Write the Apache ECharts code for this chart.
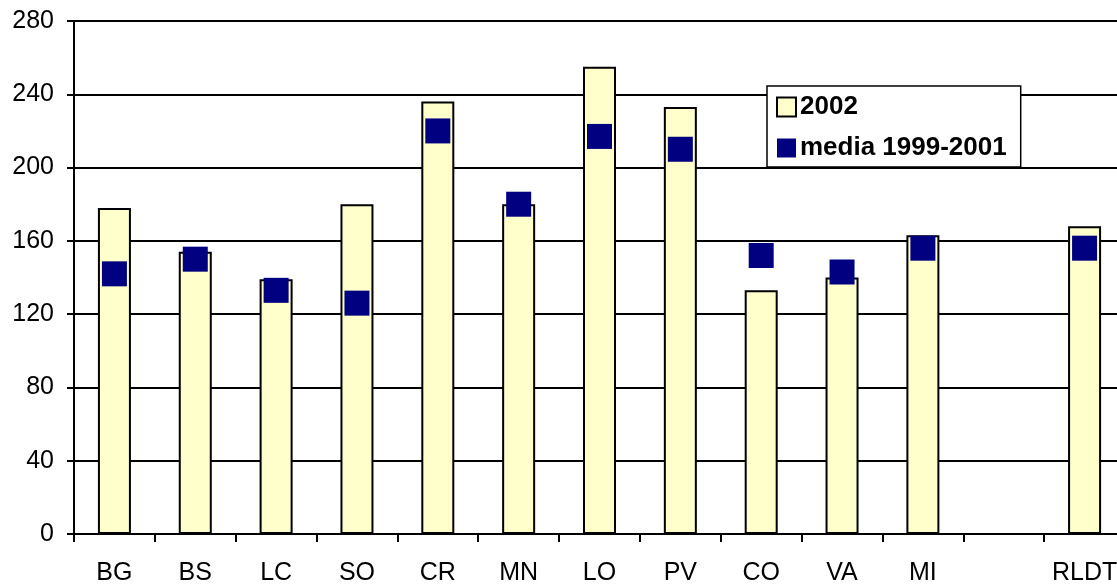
<!DOCTYPE html>
<html>
<head>
<meta charset="utf-8">
<script src="https://cdn.jsdelivr.net/npm/echarts@6/dist/echarts.min.js"></script>
<style>
  html, body { margin: 0; padding: 0; background: #fff; }
  #main { width: 1117px; height: 586px; }
</style>
</head>
<body>
<div id="main"></div>
<script>
// province codes, one empty slot before the regional total
var categories = ["BG", "BS", "LC", "SO", "CR", "MN", "LO", "PV", "CO", "VA", "MI", "", "RLDT"];
var values2002 = [178, 154, 139, 180, 236, 180, 255, 233, 133, 140, 163, "-", 168];
var media9901 = [142, 150, 133, 126, 220, 180, 217, 210, 152, 143, 156, "-", 156];
var yTicks = { min: 0, max: 280, step: 40 };

var myChart = echarts.init(document.getElementById("main"));
var font = "'Liberation Sans', Arial, sans-serif";

var option = {
  animation: false,
  backgroundColor: "#fff",
  grid: {
    left: 74,
    top: 21,
    width: 1051,
    bottom: 52,
    outerBoundsMode: "none"
  },
  legend: {
    orient: "vertical",
    left: 767,
    top: 86,
    padding: [8, 14, 6, 9],
    itemWidth: 19,
    itemHeight: 19,
    itemGap: 15,
    backgroundColor: "#fff",
    borderColor: "#000",
    borderWidth: 1.5,
    textStyle: {
      fontFamily: font,
      fontSize: 26,
      fontWeight: "bold",
      color: "#000",
      padding: [0, 0, 0, -1]
    },
    data: [
      { name: "2002", icon: "rect" },
      { name: "media 1999-2001", icon: "rect" }
    ]
  },
  xAxis: {
    type: "category",
    data: categories,
    boundaryGap: true,
    axisLine: { lineStyle: { color: "#000", width: 2 } },
    axisTick: { show: true, interval: 0, length: 8, lineStyle: { color: "#000", width: 2 } },
    axisLabel: {
      interval: 0,
      margin: 27,
      fontFamily: font,
      fontSize: 25,
      color: "#000"
    },
    splitLine: { show: false }
  },
  yAxis: {
    type: "value",
    min: yTicks.min,
    max: yTicks.max,
    interval: yTicks.step,
    axisLine: { show: true, lineStyle: { color: "#000", width: 2 } },
    axisTick: { show: true, length: 7, lineStyle: { color: "#000", width: 2 } },
    axisLabel: {
      margin: 20,
      fontFamily: font,
      fontSize: 25,
      color: "#000"
    },
    splitLine: { show: true, lineStyle: { color: "#000", width: 2 } }
  },
  series: [
    {
      name: "2002",
      type: "bar",
      data: values2002,
      barWidth: 33,
      itemStyle: {
        color: "#FFFFCC",
        borderColor: "#000",
        borderWidth: 2
      },
      z: 2
    },
    {
      name: "media 1999-2001",
      type: "scatter",
      data: media9901,
      symbol: "rect",
      symbolSize: 25,
      itemStyle: { color: "#000080", opacity: 1 },
      z: 3
    }
  ]
};
myChart.setOption(option);
</script>
</body>
</html>
